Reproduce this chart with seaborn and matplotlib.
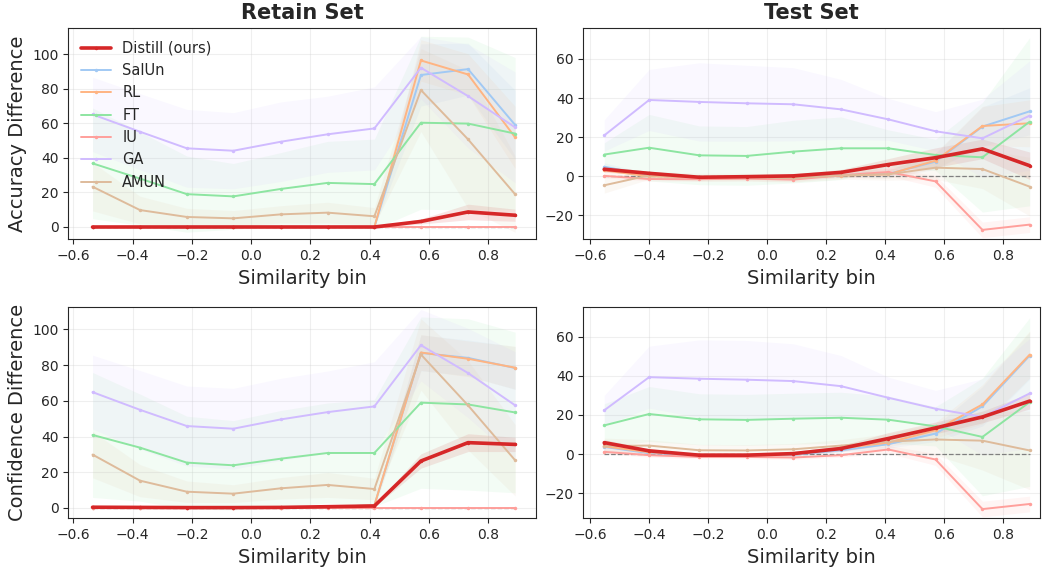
import numpy as np
import matplotlib
matplotlib.use("Agg")
import matplotlib.pyplot as plt
import seaborn as sns


METHODS = ['Distill (ours)', 'SalUn', 'RL', 'FT', 'IU', 'GA', 'AMUN']
PASTEL = sns.color_palette('pastel')
COLORS = {
    'Distill (ours)': '#d62728',
    'SalUn': PASTEL[0],
    'RL':    PASTEL[1],
    'FT':    PASTEL[2],
    'IU':    PASTEL[3],
    'GA':    PASTEL[4],
    'AMUN':  PASTEL[5],
}

# bin centres (mean similarity inside each bin)
retain_bins = [-0.535, -0.375, -0.217, -0.060, 0.100, 0.258, 0.416, 0.573, 0.732, 0.891]
test_bins   = [-0.552, -0.400, -0.230, -0.070, 0.088, 0.250, 0.410, 0.570, 0.729, 0.889]

# ---- Retain set, accuracy difference (mean / std) ----
retain_acc = {
    'Distill (ours)': [0, 0, 0, 0, 0, 0, 0, 3.2, 8.7, 6.8],
    'SalUn': [0, 0, 0, 0, 0, 0, 0, 87.9, 91.3, 59.0],
    'RL':    [0, 0, 0, 0, 0, 0, 0, 96.3, 88.2, 51.8],
    'FT':    [36.8, 28.0, 19.0, 17.7, 22.0, 25.5, 24.8, 60.3, 59.8, 54.0],
    'IU':    [0, 0, 0, 0, 0, 0, 0, 0, 0, 0],
    'GA':    [65.1, 55.1, 45.5, 44.1, 49.3, 53.6, 57.0, 92.1, 75.7, 57.6],
    'AMUN':  [23.3, 9.8, 5.8, 5.0, 7.3, 8.3, 6.2, 79.2, 50.7, 18.9],
}
retain_acc_sd = {
    'Distill (ours)': [0.3, 0.3, 0.3, 0.3, 0.3, 0.3, 0.3, 1.5, 4.5, 3.5],
    'SalUn': [0.2, 0.2, 0.2, 0.2, 0.2, 0.2, 0.2, 18, 15, 20],
    'RL':    [0.2, 0.2, 0.2, 0.2, 0.2, 0.2, 0.2, 12, 12, 18],
    'FT':    [32, 27, 22, 19, 21, 24, 26, 50, 50, 44],
    'IU':    [0.1, 0.1, 0.1, 0.1, 0.1, 0.1, 0.1, 0.1, 0.1, 0.1],
    'GA':    [21.5, 22, 22.5, 22, 23, 22, 24, 18, 30, 32],
    'AMUN':  [14, 8, 5, 4.5, 5, 6, 5, 24, 40, 22],
}

# ---- Test set, accuracy difference ----
test_acc = {
    'Distill (ours)': [3.6, 1.5, -0.5, -0.2, 0.2, 2.0, 6.0, 9.5, 14.0, 5.4],
    'SalUn': [4.9, 0.3, -0.5, -0.5, -0.5, 0.5, 1.2, 7.5, 25.4, 33.2],
    'RL':    [3.0, 0.0, -0.5, -0.5, -0.8, 0.3, 1.0, 8.0, 25.7, 27.1],
    'FT':    [11.1, 14.6, 10.7, 10.4, 12.6, 14.3, 14.3, 10.9, 9.7, 27.9],
    'IU':    [0.2, -1.4, -1.5, -1.2, -1.7, 0.5, 2.2, -2.6, -27.4, -24.7],
    'GA':    [20.9, 39.0, 38.0, 37.3, 36.8, 34.2, 29.1, 23.0, 19.4, 31.0],
    'AMUN':  [-4.6, 0.5, -0.5, -0.5, -1.0, 0.5, 1.0, 4.4, 3.7, -5.3],
}
test_acc_sd = {
    'Distill (ours)': [1.5, 1, 1, 1, 1, 1.5, 3, 5, 5, 7],
    'SalUn': [2, 1, 1, 1, 1, 1, 2, 4, 10, 12],
    'RL':    [2, 1, 1, 1, 1, 1, 2, 4, 10, 12],
    'FT':    [6, 17, 15, 15, 16, 16, 9.4, 8, 28, 43],
    'IU':    [1, 1, 1, 1, 1, 1, 2, 3, 4, 4],
    'GA':    [8, 15.6, 20, 19.4, 18.7, 15.3, 10.7, 10, 20, 28],
    'AMUN':  [4, 2, 2, 2, 2, 2, 3, 6, 10, 15],
}

# ---- Retain set, confidence difference ----
retain_conf = {
    'Distill (ours)': [0.4, 0.3, 0.2, 0.2, 0.3, 0.7, 1.1, 26.3, 36.6, 35.6],
    'SalUn': [0, 0, 0, 0, 0, 0.5, 1.5, 86.9, 84.1, 78.4],
    'RL':    [0, 0, 0, 0, 0, 0.5, 1.5, 87.1, 83.6, 78.6],
    'FT':    [40.9, 33.8, 25.4, 23.9, 27.6, 30.8, 30.8, 59.0, 58.0, 53.5],
    'IU':    [0, 0, 0, 0, 0, 0, 0, 0, 0, 0],
    'GA':    [64.9, 55.0, 45.9, 44.4, 49.6, 53.7, 56.9, 91.2, 75.6, 57.5],
    'AMUN':  [29.9, 15.3, 9.1, 8.0, 11.0, 12.9, 10.6, 86.0, 57.5, 26.7],
}
retain_conf_sd = {
    'Distill (ours)': [0.5, 0.5, 0.5, 0.5, 0.5, 0.5, 0.5, 4, 5, 4],
    'SalUn': [0.2, 0.2, 0.2, 0.2, 0.2, 0.5, 1, 10, 10, 12],
    'RL':    [0.2, 0.2, 0.2, 0.2, 0.2, 0.5, 1, 10, 10, 12],
    'FT':    [35, 30, 26, 25, 27, 28, 30, 48, 48, 45],
    'IU':    [0.1, 0.1, 0.1, 0.1, 0.1, 0.1, 0.1, 0.1, 0.1, 0.1],
    'GA':    [20.7, 22, 22.4, 22.6, 23, 23, 25, 20, 25, 30],
    'AMUN':  [13, 9, 6, 5, 6, 7, 6, 20, 25, 20],
}

# ---- Test set, confidence difference ----
test_conf = {
    'Distill (ours)': [5.9, 1.7, -0.5, -0.5, 0.3, 2.9, 8.0, 13.4, 19.0, 27.1],
    'SalUn': [3.7, 0.5, -0.5, -0.5, -0.3, 2.0, 5.1, 10.5, 24.4, 50.3],
    'RL':    [4.0, 1.0, -0.3, -0.3, 0.0, 3.0, 5.9, 12.2, 25.4, 50.8],
    'FT':    [14.7, 20.5, 17.8, 17.5, 18.1, 18.6, 17.6, 14.2, 8.8, 26.6],
    'IU':    [1.2, -0.5, -1.4, -1.4, -1.7, -0.5, 2.4, -2.7, -28.0, -25.4],
    'GA':    [22.4, 39.3, 38.5, 38.0, 37.3, 34.7, 28.8, 23.2, 19.0, 31.0],
    'AMUN':  [4.2, 4.4, 2.0, 1.9, 2.5, 4.4, 6.4, 7.5, 6.9, 1.9],
}
test_conf_sd = {
    'Distill (ours)': [1.5, 1, 1, 1, 1, 1.5, 3, 3, 3, 4],
    'SalUn': [2, 1, 1, 1, 1, 1, 2, 4, 10, 12],
    'RL':    [2, 1, 1, 1, 1, 1, 2, 4, 10, 12],
    'FT':    [11, 14, 13, 13, 13, 13, 12, 10, 30, 43],
    'IU':    [1, 1, 1, 1, 1, 1, 2, 3, 4, 4],
    'GA':    [7.6, 15.8, 19.8, 20, 19, 15.6, 10.5, 9.3, 19.5, 28],
    'AMUN':  [4, 3, 3, 3, 3, 3, 4, 8, 15, 20],
}


def draw_panel(ax, bins, means, sds, legend=False):
    """Mean line + shaded +/- std band for every method."""
    x = np.array(bins)
    for name in METHODS:
        m = np.array(means[name], dtype=float)
        s = np.array(sds[name], dtype=float)
        ours = name.startswith('Distill')
        ax.fill_between(x, m - s, m + s, color=COLORS[name],
                        alpha=0.12 if ours else 0.1, linewidth=0,
                        zorder=1)
        sns.lineplot(x=x, y=m, ax=ax, color=COLORS[name],
                     linewidth=2.6 if ours else 1.4,
                     marker='o', markersize=2.5, markeredgewidth=0,
                     label=name if legend else None,
                     zorder=5 if ours else 3)
    ax.hlines(0, x[0], x[-1], colors='gray', linestyles='--',
              linewidth=0.9, zorder=2)
    ax.grid(alpha=0.3)
    ax.tick_params(labelsize=10)
    ax.set_xticks([-0.6, -0.4, -0.2, 0.0, 0.2, 0.4, 0.6, 0.8])
    ax.set_xlabel('Similarity bin', fontsize=14)


sns.set_style('ticks')
plt.rcParams['font.family'] = ['DejaVu Sans']

fig = plt.figure(figsize=(10.42, 5.67), dpi=100)
ax_ra = fig.add_axes([0.0655, 0.578, 0.4488, 0.373])
ax_ta = fig.add_axes([0.5598, 0.578, 0.4383, 0.373])
ax_rc = fig.add_axes([0.0655, 0.0859, 0.4488, 0.372])
ax_tc = fig.add_axes([0.5598, 0.0859, 0.4383, 0.372])

draw_panel(ax_ra, retain_bins, retain_acc, retain_acc_sd, legend=True)
draw_panel(ax_ta, test_bins, test_acc, test_acc_sd)
draw_panel(ax_rc, retain_bins, retain_conf, retain_conf_sd)
draw_panel(ax_tc, test_bins, test_conf, test_conf_sd)

ax_ra.set_xlim(-0.617, 0.961)
ax_rc.set_xlim(-0.617, 0.961)
ax_ta.set_xlim(-0.623, 0.924)
ax_tc.set_xlim(-0.623, 0.924)
ax_ra.set_ylim(-7.1, 115.2)
ax_rc.set_ylim(-5.8, 112.4)
ax_ta.set_ylim(-32.2, 75.9)
ax_tc.set_ylim(-32.7, 74.9)
for a in (ax_ra, ax_rc):
    a.set_yticks([0, 20, 40, 60, 80, 100])
for a in (ax_ta, ax_tc):
    a.set_yticks([-20, 0, 20, 40, 60])

ax_ra.set_title('Retain Set', fontsize=15, fontweight='bold')
ax_ta.set_title('Test Set', fontsize=15, fontweight='bold')
ax_ra.set_ylabel('Accuracy Difference', fontsize=14)
ax_rc.set_ylabel('Confidence Difference', fontsize=14)

ax_ra.legend(loc='upper left', fontsize=10.5, frameon=False)

fig.savefig('out.png', dpi=100)
plt.close(fig)
